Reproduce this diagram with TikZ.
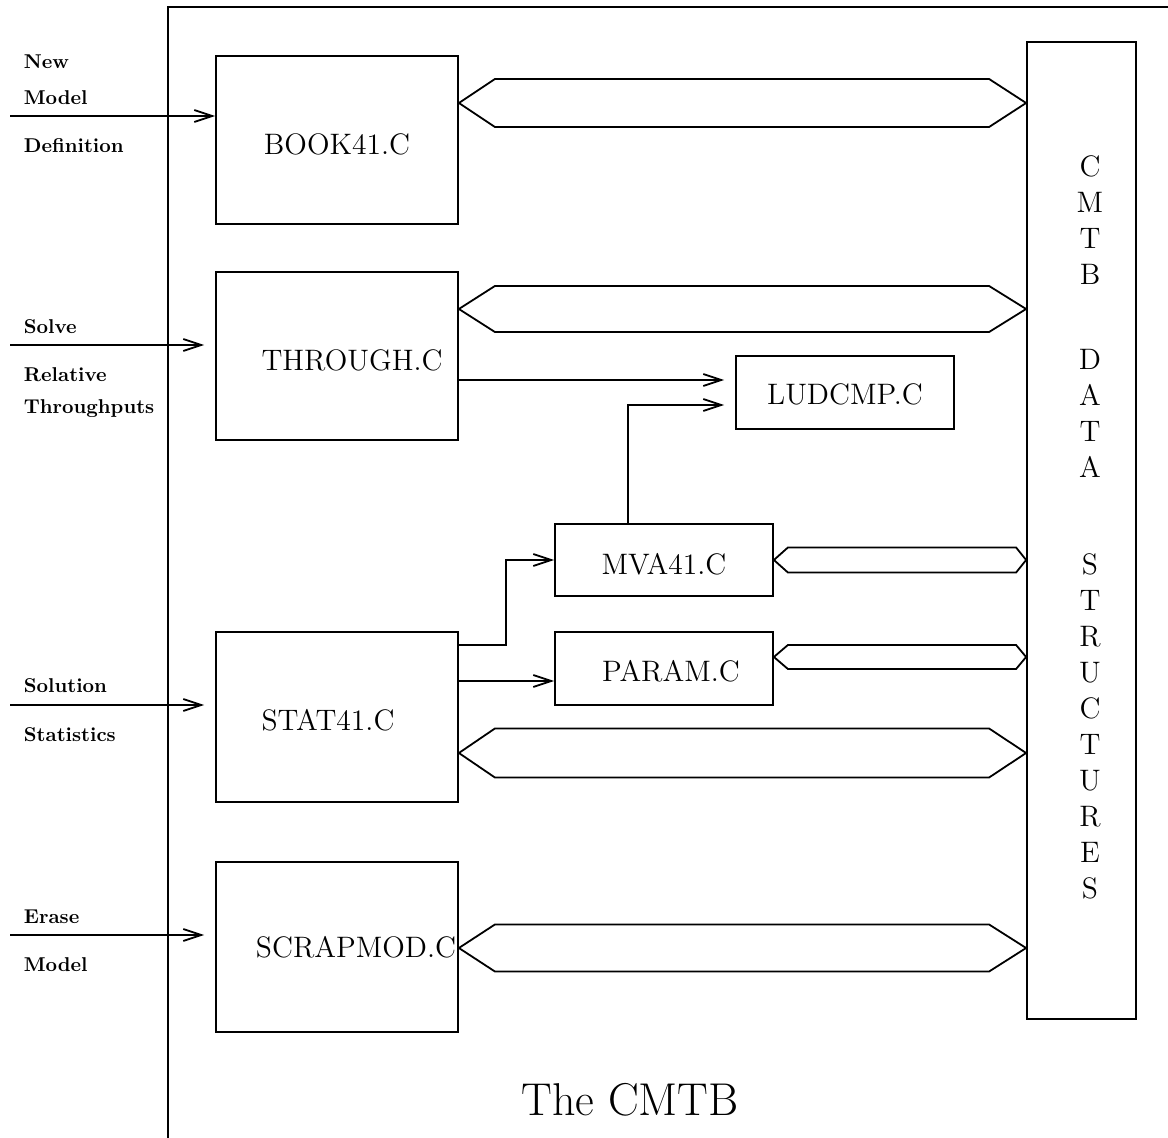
\documentclass[tikz,border=0pt]{standalone}
\usetikzlibrary{arrows.meta,calc}

\tikzset{
  every path/.style={line width=0.9pt},
  box/.style={draw, line width=0.9pt, inner sep=0pt},
  modname/.style={font=\fontsize{14.8}{18}\selectfont},
  inlabel/.style={anchor=base west, inner sep=0pt, font=\fontsize{10}{12}\selectfont\bfseries},
  flow/.style={-{Straight Barb[length=9pt,width=6pt,line width=0.9pt]}},
  bus/.style={draw, line width=0.9pt, line join=miter},
}

% two-sided data channel between a module and the data store
% #1 left node, #2 right node, #3 centre line, #4 half height, #5 left shoulder, #6 right shoulder
\newcommand\channel[6]{%
  \draw[bus] (#1.east |- 0,#3) -- ++(#5,-#4)
    -- ($(#2.west |- 0,#3)+(-#6,-#4)$) -- (#2.west |- 0,#3)
    -- ($(#2.west |- 0,#3)+(-#6,#4)$) -- ($(#1.east |- 0,#3)+(#5,#4)$) -- cycle;}

\begin{document}
\begin{tikzpicture}[x=0.5pt,y=-0.5pt]
\useasboundingbox (0,0) rectangle (1168,1138);

% frame of the test bed
\draw (168,1138) -- (168,7) -- (1168,7);

% modules
\node[box, minimum width=121pt, minimum height=84pt,
      label={[modname, yshift=-2pt]center:BOOK41.C}] (book) at (337,140) {};
\node[box, minimum width=121pt, minimum height=84pt,
      label={[modname, xshift=7.5pt, yshift=-2pt]center:THROUGH.C}] (through) at (337,356) {};
\node[box, minimum width=121pt, minimum height=85pt,
      label={[modname, xshift=-4.5pt, yshift=-1.5pt]center:STAT41.C}] (stat) at (337,717) {};
\node[box, minimum width=121pt, minimum height=85pt,
      label={[modname, xshift=9.5pt]center:SCRAPMOD.C}] (scrap) at (337,947) {};
\node[box, minimum width=109pt, minimum height=36.5pt,
      label={[modname, yshift=-1pt]center:LUDCMP.C}] (lud) at (845,392.5) {};
\node[box, minimum width=109pt, minimum height=36pt,
      label={[modname, yshift=-2pt]center:MVA41.C}] (mva) at (664,560) {};
\node[box, minimum width=109pt, minimum height=36.5pt,
      label={[modname, xshift=3.5pt, yshift=-1.5pt]center:PARAM.C}] (param) at (664,668.5) {};

% data store
\node[box, minimum width=54.5pt, minimum height=488.5pt] (store) at (1081.5,530.5) {};
\node[modname, align=center, inner sep=0pt] (storetext) at (1090,527.5)
  {C\\M\\T\\B\\[24.5pt]D\\A\\T\\A\\[30.5pt]S\\T\\R\\U\\C\\T\\U\\R\\E\\S};

% data channels
\channel{book}{store}{103}{24}{36}{37}
\channel{through}{store}{309}{23}{36}{37}
\channel{mva}{store}{560}{12.5}{14}{10}
\channel{param}{store}{657}{12}{14}{10}
\channel{stat}{store}{753}{24.5}{36}{37}
\channel{scrap}{store}{948}{23.5}{36}{37}

% external requests
\coordinate (in1) at (10,116);
\coordinate (in2) at (10,345);
\coordinate (in3) at (10,705);
\coordinate (in4) at (10,935);
\draw[flow] (in1) -- (book.west |- in1);
\draw[flow] (in2) -- ([xshift=-5.5pt]through.west |- in2);
\draw[flow] (in3) -- ([xshift=-5.5pt]stat.west |- in3);
\draw[flow] (in4) -- ([xshift=-5.5pt]scrap.west |- in4);

\node[inlabel] (l1a) at (23,69) {New};
\node[inlabel] (l1b) at (23,105) {Model};
\node[inlabel] (l1c) at (23,153) {Definition};
\node[inlabel] (l2a) at (23,334) {Solve};
\node[inlabel] (l2b) at (23,382) {Relative};
\node[inlabel] (l2c) at (23,414) {Throughputs};
\node[inlabel] (l3a) at (23,693) {Solution};
\node[inlabel] (l3b) at (23,741) {Statistics};
\node[inlabel] (l4a) at (23,923) {Erase};
\node[inlabel] (l4b) at (23,971) {Model};

% calls between modules
\draw[flow] (through.east |- 0,380) -- ([xshift=-5.5pt]lud.west |- 0,380);
\draw[flow] ([xshift=-18pt]mva.north) |- ([xshift=-5.5pt]lud.west |- 0,405);
\draw[flow] (stat.east |- 0,645) -| ($(mva.west)+(-24pt,0)$) -- (mva.west);
\draw[flow] (stat.east |- 0,681) -- (param.west |- 0,681);

% caption
\node[font=\fontsize{23}{27}\selectfont] (title) at (630,1100) {The CMTB};
\end{tikzpicture}
\end{document}
